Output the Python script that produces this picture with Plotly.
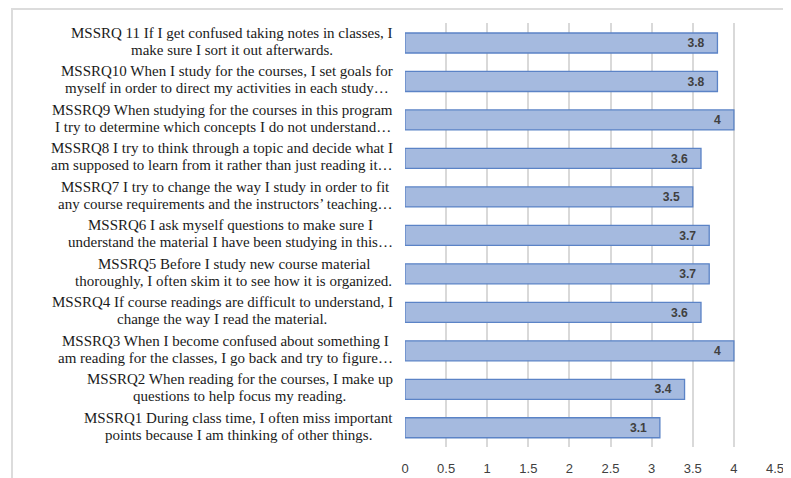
import plotly.graph_objects as go

item_ids = ["Q1", "Q2", "Q3", "Q4", "Q5", "Q6", "Q7", "Q8", "Q9", "Q10", "Q11"]
label_line1 = [
    "MSSRQ1 During class time, I often miss important",
    "MSSRQ2 When reading for the courses, I make up",
    "MSSRQ3 When I become confused about something I",
    "MSSRQ4 If course readings are difficult to understand, I",
    "MSSRQ5 Before I study new course material",
    "MSSRQ6 I ask myself questions to make sure I",
    "MSSRQ7 I try to change the way I study in order to fit",
    "MSSRQ8 I try to think through a topic and decide what I",
    "MSSRQ9 When studying for the courses in this program",
    "MSSRQ10 When I study for the courses, I set goals for",
    "MSSRQ 11 If I get confused taking notes in classes, I",
]
label_line2 = [
    "points because I am thinking of other things.",
    "questions to help focus my reading.",
    "am reading for the classes, I go back and try to figure…",
    "change the way I read the material.",
    "thoroughly, I often skim it to see how it is organized.",
    "understand the material I have been studying in this…",
    "any course requirements and the instructors’ teaching…",
    "am supposed to learn from it rather than just reading it…",
    "I try to determine which concepts I do not understand…",
    "myself in order to direct my activities in each study…",
    "make sure I sort it out afterwards.",
]
mean_scores = [3.1, 3.4, 4, 3.6, 3.7, 3.7, 3.5, 3.6, 4, 3.8, 3.8]
x_ticks = [0, 0.5, 1, 1.5, 2, 2.5, 3, 3.5, 4, 4.5]

# Times / Liberation Serif advance widths (1/1000 em) used to centre wrapped lines
_upper = dict(zip("ABCDEFGHIJKLMNOPQRSTUVWXYZ",
                  [722, 667, 667, 722, 611, 556, 722, 722, 333, 389, 722, 611, 889,
                   722, 722, 556, 722, 667, 556, 611, 722, 722, 944, 722, 722, 611]))
_lower = dict(zip("abcdefghijklmnopqrstuvwxyz",
                  [444, 500, 444, 500, 444, 333, 500, 500, 278, 278, 500, 278, 778,
                   500, 500, 500, 500, 333, 389, 278, 500, 500, 722, 500, 500, 444]))
_other = {" ": 250, ",": 250, ".": 250, "’": 333, "…": 1000, "'": 180}
_other.update({d: 500 for d in "0123456789"})
WIDTHS = {**_upper, **_lower, **_other}

def text_width(s, size):
    return sum(WIDTHS.get(c, 500) for c in s) * size / 1000.0

# page is offset by the 8px body margin
OFF = 8
W, H = 791 - OFF, 478 - OFF
L, R, T, B = 405 - OFF, 16, 23 - OFF, 31
pw, ph = W - L - R, H - T - B

def px_x(px):
    return (px - OFF - L) / pw

def fig_y(fy):
    return (H - B - fy) / ph

LABEL_SIZE = 15
LABEL_RIGHT = 393
LINE_GAP = 17

fig = go.Figure()
fig.add_trace(go.Bar(
    x=mean_scores,
    y=item_ids,
    orientation="h",
    marker=dict(color="#a5badf", line=dict(color="#5b83c6", width=1.3)),
    text=mean_scores,
    texttemplate="<b>%{x}</b>\u00a0\u00a0\u00a0",
    textposition="inside",
    insidetextanchor="end",
    textfont=dict(family="Liberation Sans, Arial, sans-serif", size=13, color="#404040"),
    cliponaxis=False,
    hoverinfo="skip",
))

for cid, l1, l2 in zip(item_ids, label_line1, label_line2):
    w1, w2 = text_width(l1, LABEL_SIZE), text_width(l2, LABEL_SIZE)
    block = max(w1, w2)
    centre = LABEL_RIGHT - block / 2
    for txt, ys in ((l1, LINE_GAP / 2 + 1.5), (l2, -LINE_GAP / 2 + 1.5)):
        fig.add_annotation(
            x=px_x(centre), xref="paper", y=cid, yref="y",
            text=txt, showarrow=False, xanchor="center", yanchor="middle",
            yshift=ys,
            font=dict(family="Liberation Serif, Times New Roman, serif",
                      size=LABEL_SIZE, color="#1a1a1a"),
        )

fig.add_shape(
    type="rect", xref="paper", yref="paper",
    x0=px_x(12), x1=px_x(805), y0=fig_y(H + 20), y1=fig_y(1),
    line=dict(color="#dcdcdc", width=2), fillcolor="rgba(0,0,0,0)", layer="below",
)

fig.update_layout(
    width=W, height=H,
    margin=dict(l=L, r=R, t=T, b=B, autoexpand=False),
    paper_bgcolor="white", plot_bgcolor="white",
    bargap=0.48,
    showlegend=False,
    xaxis=dict(
        range=[0, 4.5], tickvals=x_ticks, ticktext=[f"{v:g}" for v in x_ticks],
        showgrid=True, gridcolor="#d9d9d9", gridwidth=1.5,
        zeroline=False, showline=False, ticks="",
        tickfont=dict(family="Liberation Sans, Arial, sans-serif", size=13, color="#404040"),
        ticklabelstandoff=12, automargin=False,
    ),
    yaxis=dict(
        categoryorder="array", categoryarray=item_ids, automargin=False,
        showticklabels=False, showgrid=False, zeroline=False, showline=False, ticks="",
    ),
)

fig.write_html("out.html")
